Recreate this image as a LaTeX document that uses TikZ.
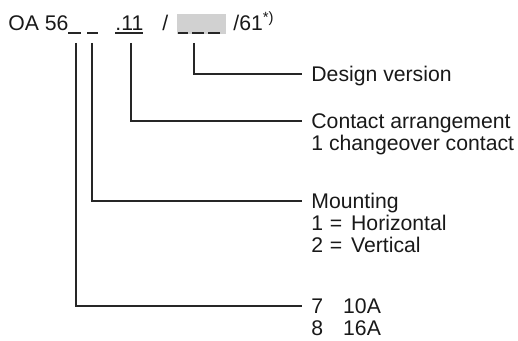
\documentclass[tikz,border=0pt]{standalone}
\usepackage{fontspec}
\setmainfont{Liberation Sans}
\usetikzlibrary{positioning}
\tikzset{
  lbl/.style={inner sep=0pt, text height=7.5pt, text depth=0pt, anchor=west,
    font=\fontsize{10.6}{10.5}\selectfont, text=black!90},
  lead/.style={draw=black!85, line width=0.6pt},
  slot/.style={draw=black!85, line width=0.6pt},
}

\begin{document}
\begin{tikzpicture}[x=0.5pt,y=-0.5pt]
\useasboundingbox (0,0) rectangle (518,341);
% type code
\node[lbl, anchor=base west] (oa) at (8,30.5) {OA 56};
\node[lbl, anchor=base west] (ct) at (115,30.5) {.11};
\node[lbl, anchor=base west] (sl) at (162,30.5) {/};
\fill[gray!36] (177,14) rectangle (226,34);
\node[lbl, anchor=base west] (sf) at (233,30.5) {/61\textsuperscript{*)}};
% placeholders
\foreach \a/\b in {68/81, 87/98, 115/143, 178/188, 192/204, 208/220}
  \draw[slot] (\a,33) -- (\b,33);

% lead lines
\coordinate (tv) at (194,43);
\coordinate (tc) at (131,43);
\coordinate (tm) at (92,43);
\coordinate (ta) at (76,43);
\coordinate (ev) at (302,74);
\coordinate (ec) at (302,121);
\coordinate (em) at (302,201);
\coordinate (ea) at (302,306);
\draw[lead] (tv) |- (ev);
\draw[lead] (tc) |- (ec);
\draw[lead] (tm) |- (em);
\draw[lead] (ta) |- (ea);

% labels
\node[lbl, right=4.5pt of ev] (design) {Design version};
\node[lbl, right=4.5pt of ec] (contact) {Contact arrangement};
\node[lbl, below=3pt of contact.south west, anchor=north west] (contact1) {1 changeover contact};
\node[lbl, right=4.5pt of em] (mount) {Mounting};
\node[lbl, below=3pt of mount.south west, anchor=north west] (mount1) {1\hspace{3.4pt}=\hspace{4.4pt}Horizontal};
\node[lbl, below=3pt of mount1.south west, anchor=north west] (mount2) {2\hspace{3.4pt}=\hspace{4.4pt}Vertical};
\node[lbl, right=4.5pt of ea] (amp) {7\hspace{10pt}10A};
\node[lbl, below=3pt of amp.south west, anchor=north west] (amp1) {8\hspace{10pt}16A};
\end{tikzpicture}
\end{document}
